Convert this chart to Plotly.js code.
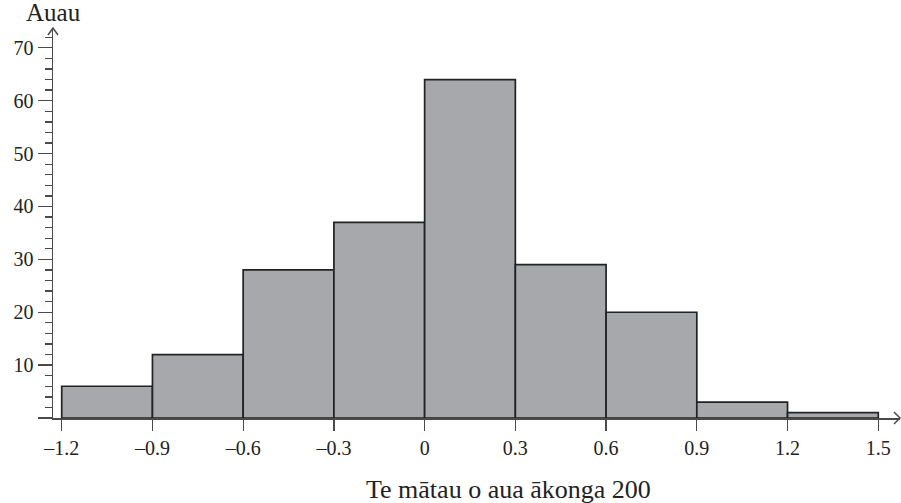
<!DOCTYPE html>
<html>
<head>
<meta charset="utf-8">
<script src="https://cdn.plot.ly/plotly-3.0.1.min.js"></script>
<style>html,body{margin:0;padding:0;background:#fff;}#chart{width:901px;height:503px;}</style>
</head>
<body>
<div id="chart"></div>
<script>
const binStart = [-1.2, -0.9, -0.6, -0.3, 0, 0.3, 0.6, 0.9, 1.2];
const counts = [6, 12, 28, 37, 64, 29, 20, 3, 1];
const binWidth = 0.3;
const xTickVals = [-1.2, -0.9, -0.6, -0.3, 0, 0.3, 0.6, 0.9, 1.2, 1.5];
const xTickText = ['–1.2', '–0.9', '–0.6', '–0.3', '0', '0.3', '0.6', '0.9', '1.2', '1.5'];
const yTickVals = [0, 10, 20, 30, 40, 50, 60, 70];
const yTickText = ['', '10', '20', '30', '40', '50', '60', '70'];
const yTitle = 'Auau';
const xTitle = 'Te mātau o aua ākonga 200';

const W = 847, H = 390;
const font = 'Liberation Serif, Times New Roman, serif';

const trace = {
  type: 'bar',
  x: binStart,
  y: counts,
  width: binStart.map(() => binWidth),
  offset: 0,
  marker: {color: '#a7a8ac', line: {color: '#222222', width: 1.7}},
  hoverinfo: 'skip'
};

const layout = {
  width: 901, height: 503,
  margin: {l: 53, r: 1, t: 28, b: 85, pad: 0},
  paper_bgcolor: '#ffffff', plot_bgcolor: '#ffffff',
  showlegend: false,
  bargap: 0,
  xaxis: {
    range: [-1.2288, 1.5718],
    showgrid: false, zeroline: false,
    showline: true, linecolor: '#4a4a4a', linewidth: 1.5,
    tickmode: 'array', tickvals: xTickVals, ticktext: xTickText,
    ticks: 'outside', ticklen: 11, tickwidth: 1.3, tickcolor: '#4a4a4a',
    tickfont: {family: font, size: 20, color: '#222'},
    fixedrange: true
  },
  yaxis: {
    range: [0, 73.75],
    showgrid: false, zeroline: false,
    showline: true, linecolor: '#4a4a4a', linewidth: 1.5,
    tickmode: 'array', tickvals: yTickVals, ticktext: yTickText,
    ticks: 'outside', ticklen: 14, tickwidth: 1.3, tickcolor: '#4a4a4a',
    minor: {dtick: 2, ticks: 'outside', ticklen: 7, tickwidth: 1.3, tickcolor: '#4a4a4a', showgrid: false},
    tickfont: {family: font, size: 20, color: '#222'},
    fixedrange: true
  },
  annotations: [
    {text: yTitle, xref: 'paper', yref: 'paper', x: 0, y: 1, xanchor: 'center', yanchor: 'bottom', yshift: 0,
     showarrow: false, font: {family: font, size: 25, color: '#222'}},
    {text: xTitle, xref: 'paper', yref: 'paper', x: (508.5 - 53) / W, y: 0, xanchor: 'center', yanchor: 'top', yshift: -55,
     showarrow: false, font: {family: font, size: 26, color: '#222'}}
  ],
  shapes: [
    {type: 'path', xref: 'paper', yref: 'paper',
     path: 'M ' + (-5 / W) + ' ' + (1 - 7 / H) + ' L 0 1 L ' + (5 / W) + ' ' + (1 - 7 / H),
     line: {color: '#4a4a4a', width: 1.5}},
    {type: 'path', xref: 'paper', yref: 'paper',
     path: 'M ' + (1 - 6 / W) + ' ' + (6 / H) + ' L 1 0 L ' + (1 - 6 / W) + ' ' + (-6 / H),
     line: {color: '#4a4a4a', width: 1.5}}
  ]
};

Plotly.newPlot('chart', [trace], layout, {staticPlot: true, displayModeBar: false});
</script>
</body>
</html>
